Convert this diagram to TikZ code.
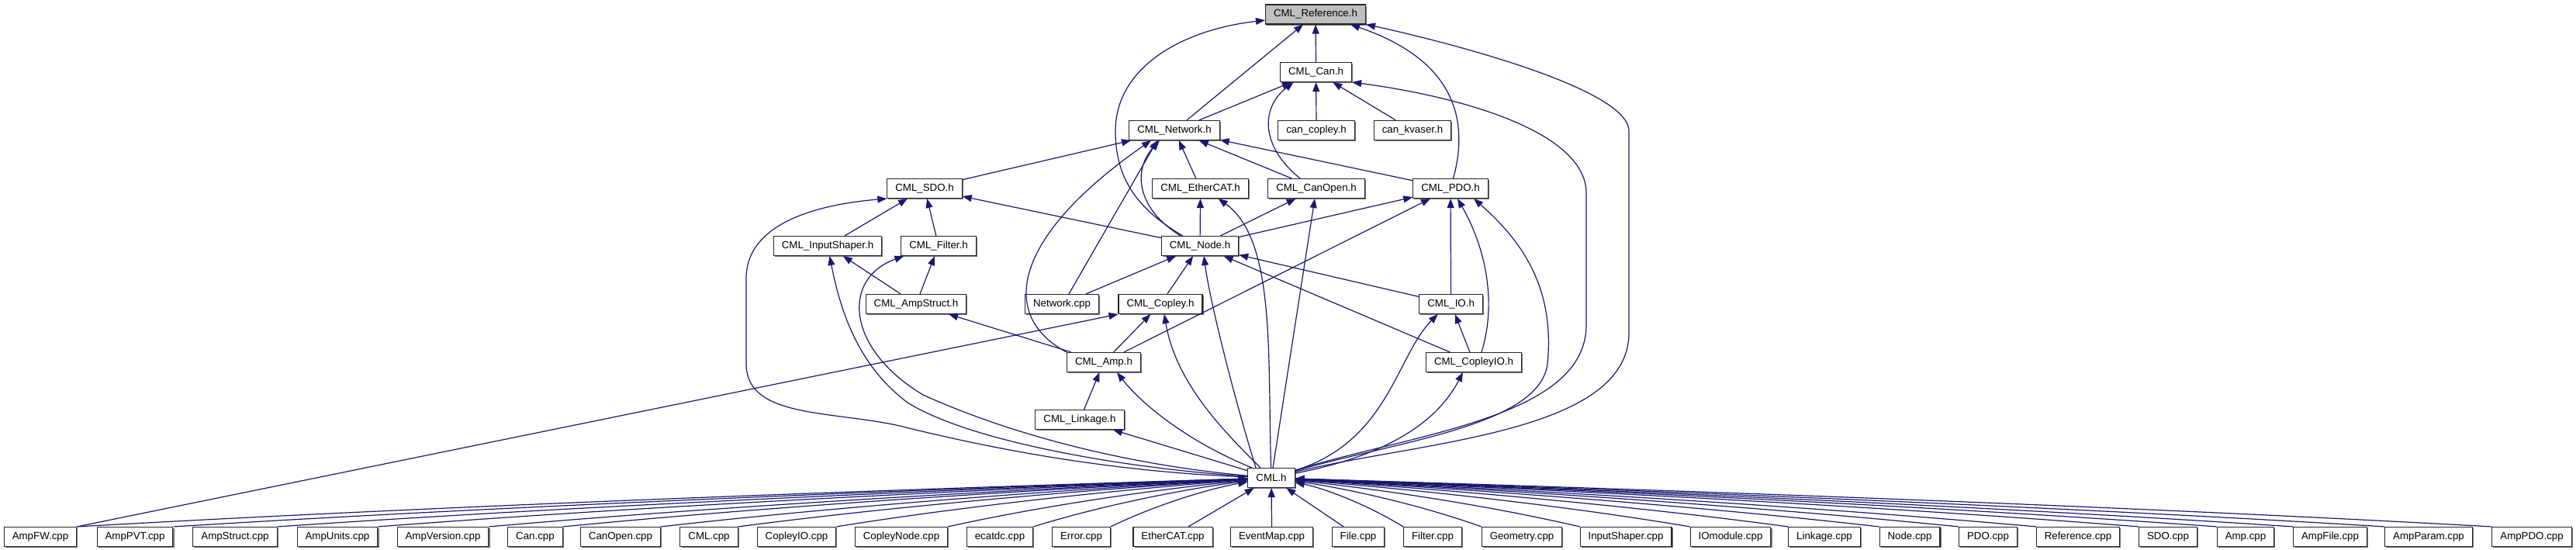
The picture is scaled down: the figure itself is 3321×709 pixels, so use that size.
\documentclass[tikz,border=0pt]{standalone}
\usepackage{fontspec}
\setmainfont{Liberation Sans}
\usetikzlibrary{arrows.meta,shadows,calc}
\definecolor{edgeblue}{RGB}{25,25,112}
\begin{document}
\begin{tikzpicture}[x=1pt,y=1pt,
  box/.style={draw=black!85, line width=1.1pt, fill=white, minimum height=25pt,
    inner xsep=10.5pt, inner ysep=0pt, font=\fontsize{13.3pt}{16pt}\selectfont,
    general shadow={fill=black!55, shadow xshift=1.6pt, shadow yshift=-1.6pt}},
  root/.style={box, fill=black!25},
  e/.style={draw=edgeblue, line width=1.2pt, -{Triangle[length=12pt,width=9pt]}},
]
\useasboundingbox (0,0) rectangle (3321,709);
% upper nodes
\node[root] (ref) at (1696,690.5) {CML\_Reference.h};
\node[box] (can) at (1696.6,616) {CML\_Can.h};
\node[box] (net) at (1514,541) {CML\_Network.h};
\node[box] (cancopley) at (1697,541) {can\_copley.h};
\node[box] (cankvaser) at (1821,541) {can\_kvaser.h};
\node[box] (sdo) at (1192,466) {CML\_SDO.h};
\node[box] (ethercat) at (1547.6,466) {CML\_EtherCAT.h};
\node[box] (canopen) at (1697,466) {CML\_CanOpen.h};
\node[box] (pdo) at (1870,466) {CML\_PDO.h};
\node[box] (inshaper) at (1067,392) {CML\_InputShaper.h};
\node[box] (filter) at (1210,392) {CML\_Filter.h};
\node[box] (node) at (1547,392) {CML\_Node.h};
\node[box] (ampstruct) at (1181,317) {CML\_AmpStruct.h};
\node[box] (netcpp) at (1369,317) {Network.cpp};
\node[box] (copley) at (1496,317) {CML\_Copley.h};
\node[box] (io) at (1870.6,317) {CML\_IO.h};
\node[box] (amp) at (1423,242) {CML\_Amp.h};
\node[box] (copleyio) at (1900,242) {CML\_CopleyIO.h};
\node[box] (linkage) at (1392,168) {CML\_Linkage.h};
\node[box] (cml) at (1639,93) {CML.h};
% bottom row
\node[box] (ampfw) at (52,17) {AmpFW.cpp};
\node[box] (amppvt) at (174,17) {AmpPVT.cpp};
\node[box] (ampstructcpp) at (303,17) {AmpStruct.cpp};
\node[box] (ampunits) at (435,17) {AmpUnits.cpp};
\node[box] (ampversion) at (571,17) {AmpVersion.cpp};
\node[box] (cancpp) at (690,17) {Can.cpp};
\node[box] (canopencpp) at (800,17) {CanOpen.cpp};
\node[box] (cmlcpp) at (914,17) {CML.cpp};
\node[box] (copleyiocpp) at (1027,17) {CopleyIO.cpp};
\node[box] (copleynodecpp) at (1162,17) {CopleyNode.cpp};
\node[box] (ecatdc) at (1289,17) {ecatdc.cpp};
\node[box] (errorcpp) at (1394,17) {Error.cpp};
\node[box] (ethercatcpp) at (1512,17) {EtherCAT.cpp};
\node[box] (eventmap) at (1639.6,17) {EventMap.cpp};
\node[box] (filecpp) at (1751,17) {File.cpp};
\node[box] (filtercpp) at (1847,17) {Filter.cpp};
\node[box] (geometry) at (1962,17) {Geometry.cpp};
\node[box] (inputshapercpp) at (2096,17) {InputShaper.cpp};
\node[box] (iomodule) at (2231,17) {IOmodule.cpp};
\node[box] (linkagecpp) at (2352,17) {Linkage.cpp};
\node[box] (nodecpp) at (2462,17) {Node.cpp};
\node[box] (pdocpp) at (2563,17) {PDO.cpp};
\node[box] (referencecpp) at (2679,17) {Reference.cpp};
\node[box] (sdocpp) at (2795,17) {SDO.cpp};
\node[box] (ampcpp) at (2895,17) {Amp.cpp};
\node[box] (ampfile) at (3004,17) {AmpFile.cpp};
\node[box] (ampparam) at (3131,17) {AmpParam.cpp};
\node[box] (amppdo) at (3264,17) {AmpPDO.cpp};
% Reference
\draw[e] (can) -- (ref);
\draw[e] (net) -- (ref);
\draw[e] (node) .. controls (1465,440) and (1438,480) .. (1438,540) .. controls (1438,620) and (1520,670) .. (ref);
\draw[e] (pdo) .. controls (1893,550) and (1880,630) .. ([xshift=45pt]ref.south);
\draw[e] (cml) .. controls (1830,140) and (2100,150) .. (2100,280) -- (2100,540) .. controls (2100,600) and (1820,665) .. (ref.south east);
% Can
\draw[e] (net) -- (can);
\draw[e] (cancopley) -- (can);
\draw[e] (cankvaser) -- (can);
\draw[e] ([xshift=-21pt]canopen.north) .. controls (1625,520) and (1625,570) .. ([xshift=-29pt]can.south);
\draw[e] (cml) .. controls (1820,150) and (2045,170) .. (2045,290) -- (2045,460) .. controls (2045,540) and (1880,585) .. (can.south east);
% Network
\draw[e] (sdo) -- (net);
\draw[e] (ethercat) -- (net);
\draw[e] (canopen) -- (net);
\draw[e] (pdo) -- (net);
\draw[e] ([xshift=-25pt]node.north) .. controls (1465,440) and (1460,490) .. ([xshift=-19pt]net.south);
\draw[e] (amp.north west) .. controls (1290,300) and (1300,400) .. ([xshift=-30pt]net.south);
\draw[e] ([xshift=9pt]netcpp.north) -- ([xshift=-22pt]net.south);
% SDO
\draw[e] (inshaper) -- (sdo);
\draw[e] (filter) -- (sdo);
\draw[e] (node) -- (sdo);
\draw[e] (cml) .. controls (1450,100) and (1300,125) .. (1160,160) .. controls (1070,180) and (962,170) .. (962,240) -- (962,350) .. controls (962,420) and (1050,445) .. (sdo.south west);
% InputShaper
\draw[e] (ampstruct) -- (inshaper);
\draw[e] (cml) .. controls (1450,105) and (1250,140) .. (1170,190) .. controls (1110,235) and (1085,300) .. (inshaper);
% Filter
\draw[e] (ampstruct) -- (filter);
\draw[e] (cml) .. controls (1450,110) and (1300,150) .. (1190,200) .. controls (1090,260) and (1085,350) .. ([xshift=4pt]filter.south west);
% AmpStruct
\draw[e] (amp) -- (ampstruct);
% EtherCAT
\draw[e] (node) -- (ethercat);
\draw[e] (cml) .. controls (1634,250) and (1645,400) .. ([xshift=23pt]ethercat.south);
% CanOpen
\draw[e] (node) -- (canopen);
\draw[e] (cml) -- (canopen);
% PDO
\draw[e] (node) -- (pdo);
\draw[e] (amp) -- (pdo);
\draw[e] (io) -- (pdo);
\draw[e] ([xshift=10pt]copleyio.north) .. controls (1930,320) and (1915,390) .. ([xshift=9pt]pdo.south);
\draw[e] (cml) .. controls (1800,140) and (1985,160) .. (1995,240) .. controls (2005,340) and (1960,400) .. ([xshift=30pt]pdo.south);
% Node
\draw[e] (netcpp) -- (node);
\draw[e] (copley) -- (node);
\draw[e] (io) -- (node);
\draw[e] (copleyio) -- (node);
\draw[e] ([xshift=-20pt]cml.north) .. controls (1590,200) and (1560,320) .. ([xshift=5pt]node.south);
% Copley
\draw[e] (amp) -- (copley);
\draw[e] ([xshift=-14pt]cml.north) .. controls (1570,160) and (1515,220) .. ([xshift=5pt]copley.south);
\draw[e] (ampfw.north east) -- (copley.south west);
% IO / CopleyIO
\draw[e] (copleyio) -- (io);
\draw[e] (cml) .. controls (1790,140) and (1800,250) .. ([xshift=-17pt]io.south);
\draw[e] (cml) .. controls (1780,120) and (1850,160) .. ([xshift=-14pt]copleyio.south);
% Amp / Linkage
\draw[e] (linkage) -- (amp);
\draw[e] ([xshift=-25pt]cml.north) .. controls (1530,140) and (1470,190) .. ([xshift=17pt]amp.south);
\draw[e] (cml) -- (linkage);
% bottom fan
\foreach \n in {ampfw,amppvt,ampstructcpp,ampunits,ampversion,cancpp,canopencpp,cmlcpp,copleyiocpp,copleynodecpp,ecatdc,errorcpp}
  \draw[e] (\n.north east) .. controls ($(\n.north east)!0.35!(cml.west)+(0,8)$) and ($(\n.north east)!0.75!(cml.west)+(0,3)$) .. (cml);
\draw[e] ([xshift=20pt]ethercatcpp.north) -- (cml);
\draw[e] (eventmap) -- (cml);
\draw[e] ([xshift=-19pt]filecpp.north) -- (cml);
\foreach \n in {filtercpp,geometry,inputshapercpp,iomodule,linkagecpp,nodecpp,pdocpp,referencecpp,sdocpp,ampcpp,ampfile,ampparam,amppdo}
  \draw[e] (\n.north west) .. controls ($(\n.north west)!0.35!(cml.east)+(0,8)$) and ($(\n.north west)!0.75!(cml.east)+(0,3)$) .. (cml);
\end{tikzpicture}
\end{document}
